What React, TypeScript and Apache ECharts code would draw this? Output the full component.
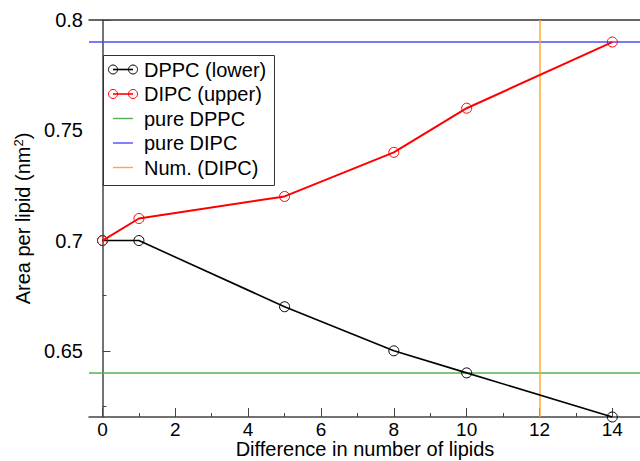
import React, { useEffect, useRef } from "react";
import * as echarts from "echarts";

const xValues = [0, 1, 5, 8, 10, 14];
const dppcLower = [0.7, 0.7, 0.67, 0.65, 0.64, 0.62];
const dipcUpper = [0.7, 0.71, 0.72, 0.74, 0.76, 0.79];
const pureDPPC = 0.64;
const pureDIPC = 0.79;
const numDIPC = 12;
const xMajorTicks = [0, 2, 4, 6, 8, 10, 12, 14];
const xMinorTicks = [1, 3, 5, 7, 9, 11, 13];
const yMajorTicks = [0.65, 0.7, 0.75, 0.8];
const yMinorTicks = [0.625, 0.675, 0.725, 0.775];
const legendNames = ["DPPC (lower)", "DIPC (upper)", "pure DPPC", "pure DIPC", "Num. (DIPC)"];
const xTitle = "Difference in number of lipids";

const FONT = "'Liberation Sans', Arial, sans-serif";
const AXIS = "#444";
const GREEN = "#55b055";
const BLUE = "#4c4cff";
const ORANGE = "#ffaa30";

export default function App() {
  const ref = useRef<HTMLDivElement>(null);
  useEffect(() => {
    if (!ref.current) return;
    const chart = echarts.init(ref.current, undefined, { renderer: "svg" });
    const pts = (ys: number[]) => xValues.map((x, i) => [x, ys[i]]);
    const axisBase = {
      type: "value" as const,
      splitLine: { show: false },
    };
    const legendColors = ["#000", "#ff0000", GREEN, BLUE, ORANGE];
    const legendEls: any[] = [
      {
        type: "rect",
        shape: { x: 103.5, y: 55.5, width: 171, height: 130 },
        style: { fill: "#fff", stroke: "#333", lineWidth: 1 },
        z: 100,
      },
      {
        type: "text",
        x: 365,
        y: 449,
        style: {
          text: xTitle,
          font: `20px ${FONT}`,
          fill: "#000",
          verticalAlign: "middle",
          align: "center",
        },
        z: 102,
      },
    ];
    legendNames.forEach((name, i) => {
      const cy = 69.5 + 24.5 * i;
      const c = legendColors[i];
      legendEls.push({
        type: "line",
        shape: { x1: 113, y1: cy, x2: 133, y2: cy },
        style: { stroke: c, lineWidth: i < 2 ? 1.6 : 1.4 },
        z: 101,
      });
      if (i < 2) {
        [113, 133].forEach((cx) =>
          legendEls.push({
            type: "circle",
            shape: { cx, cy, r: 4.5 },
            style: { fill: "rgba(0,0,0,0)", stroke: c, lineWidth: 1 },
            z: 102,
          })
        );
      }
      legendEls.push({
        type: "text",
        x: 144,
        y: cy,
        style: {
          text: name,
          font: `20px ${FONT}`,
          fill: "#000",
          verticalAlign: "middle",
          align: "left",
        },
        z: 102,
      });
    });

    chart.setOption({
      animation: false,
      backgroundColor: "#fff",
      textStyle: { fontFamily: FONT },
      grid: { left: 89, top: 20, right: 0, bottom: 44, outerBoundsMode: "none", containLabel: false },
      xAxis: [
        {
          ...axisBase,
          position: "bottom",
          min: -0.37,
          max: 14.76,
          axisLine: { show: true, lineStyle: { color: AXIS, width: 1.5 } },
          axisTick: { show: true, inside: true, length: 9, customValues: xMajorTicks, lineStyle: { color: AXIS } },
          axisLabel: {
            show: true,
            customValues: xMajorTicks,
            color: "#000",
            fontSize: 19,
            fontFamily: FONT,
            margin: 3,
          },
        },
        {
          ...axisBase,
          position: "bottom",
          min: -0.37,
          max: 14.76,
          axisLine: { show: false },
          axisTick: { show: true, inside: true, length: 4, customValues: xMinorTicks, lineStyle: { color: AXIS } },
          axisLabel: { show: false },
        },
        {
          ...axisBase,
          position: "top",
          min: -0.37,
          max: 14.76,
          axisLine: { show: true, lineStyle: { color: "#333", width: 1.5 } },
          axisTick: { show: false },
          axisLabel: { show: false },
        },
      ],
      yAxis: [
        {
          ...axisBase,
          position: "left",
          min: 0.62,
          max: 0.8,
          axisLine: { show: true, lineStyle: { color: AXIS, width: 1.5 } },
          axisTick: { show: true, inside: true, length: 8, customValues: yMajorTicks, lineStyle: { color: AXIS } },
          axisLabel: {
            show: true,
            customValues: yMajorTicks,
            color: "#000",
            fontSize: 20,
            fontFamily: FONT,
            margin: 6,
            formatter: (v: number) => String(v),
          },
          name: "Area per lipid (nm{sup|2})",
          nameLocation: "middle",
          nameGap: 51,
          nameTextStyle: {
            color: "#000",
            fontSize: 20,
            fontFamily: FONT,
            rich: {
              sup: { fontSize: 13, fontFamily: FONT, color: "#000", padding: [0, 0, 10, 0] },
            },
          },
        },
        {
          ...axisBase,
          position: "left",
          min: 0.62,
          max: 0.8,
          axisLine: { show: false },
          axisTick: { show: true, inside: true, length: 4, customValues: yMinorTicks, lineStyle: { color: AXIS } },
          axisLabel: { show: false },
        },
      ],
      series: [
        {
          name: "pure DPPC",
          type: "line",
          data: [],
          markLine: {
            silent: true,
            symbol: "none",
            label: { show: false },
            lineStyle: { color: GREEN, width: 1.5, type: "solid" },
            data: [{ yAxis: pureDPPC }],
          },
        },
        {
          name: "pure DIPC",
          type: "line",
          data: [],
          markLine: {
            silent: true,
            symbol: "none",
            label: { show: false },
            lineStyle: { color: BLUE, width: 1.5, type: "solid" },
            data: [{ yAxis: pureDIPC }],
          },
        },
        {
          name: "Num. (DIPC)",
          type: "line",
          data: [],
          markLine: {
            silent: true,
            symbol: "none",
            label: { show: false },
            lineStyle: { color: ORANGE, width: 1.5, type: "solid" },
            data: [{ xAxis: numDIPC }],
          },
        },
        {
          name: "DPPC (lower)",
          type: "line",
          data: pts(dppcLower),
          clip: false,
          symbol: "circle",
          symbolSize: 10,
          lineStyle: { color: "#000", width: 1.6 },
          itemStyle: { color: "rgba(0,0,0,0)", borderColor: "#000", borderWidth: 1 },
          z: 5,
        },
        {
          name: "DIPC (upper)",
          type: "line",
          data: pts(dipcUpper),
          clip: false,
          symbol: "circle",
          symbolSize: 10,
          lineStyle: { color: "#ff0000", width: 2 },
          itemStyle: { color: "rgba(0,0,0,0)", borderColor: "#ff0000", borderWidth: 1 },
          z: 6,
        },
      ],
      graphic: legendEls,
    });
    return () => chart.dispose();
  }, []);
  return <div ref={ref} style={{ position: "fixed", left: 0, top: 0, width: 640, height: 461 }} />;
}
